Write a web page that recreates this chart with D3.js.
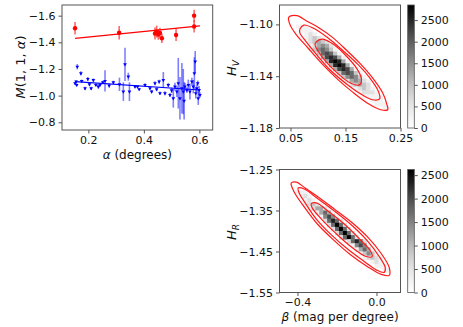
<!DOCTYPE html>
<html>
<head>
<meta charset="utf-8">
<script src="https://cdn.jsdelivr.net/npm/d3@7"></script>
<style>
body { margin: 0; background: #fff; }
svg { font-family: "DejaVu Sans", sans-serif; }
</style>
</head>
<body>
<svg width="463" height="327"></svg>
<script>
// ---------- left panel: M(1,1,alpha) vs phase angle ----------
var redAlpha = [0.152, 0.311, 0.440, 0.446, 0.452, 0.458, 0.465, 0.516, 0.581, 0.581];
var redMag   = [-1.505, -1.472, -1.466, -1.480, -1.459, -1.470, -1.430, -1.455, -1.600, -1.519];
var redErr   = [0.047, 0.05, 0.045, 0.045, 0.04, 0.04, 0.035, 0.045, 0.045, 0.045];

var blueAlpha = [0.152, 0.156, 0.158, 0.160, 0.173, 0.176, 0.188, 0.198, 0.204, 0.210,
                 0.218, 0.227, 0.236, 0.242, 0.252, 0.260, 0.275, 0.290, 0.312, 0.326,
                 0.332, 0.344, 0.348, 0.368, 0.377, 0.383, 0.404, 0.422, 0.428, 0.440,
                 0.446, 0.455, 0.458, 0.470, 0.476, 0.488, 0.494, 0.500, 0.506, 0.512,
                 0.519, 0.524, 0.530, 0.537, 0.542, 0.545, 0.548, 0.555, 0.560, 0.566,
                 0.573, 0.578, 0.582, 0.585, 0.587, 0.591, 0.594, 0.596, 0.599, 0.602];
var blueMag   = [-1.093, -1.105, -1.080, -1.217, -1.168, -1.110, -1.055, -1.125, -1.085, -1.055,
                 -1.117, -1.080, -1.067, -1.080, -1.100, -1.110, -1.075, -1.100, -1.085, -1.030,
                 -1.235, -1.142, -1.030, -1.067, -1.067, -1.048, -1.080, -1.055, -1.030, -1.093,
                 -1.048, -1.105, -1.018, -1.117, -1.018, -1.080, -1.005, -1.040, -0.980, -1.067,
                 -1.030, -1.093, -0.980, -1.055, -1.030, -0.960, -1.067, -1.042, -1.080, -1.030,
                 -1.105, -1.067, -1.168, -1.255, -1.018, -1.055, -1.093, -0.980, -1.042, -1.005];
var blueErr   = [0.010, 0.010, 0.010, 0.020, 0.015, 0.010, 0.012, 0.015, 0.010, 0.012,
                 0.012, 0.010, 0.015, 0.010, 0.012, 0.080, 0.015, 0.012, 0.050, 0.070,
                 0.125, 0.030, 0.070, 0.012, 0.010, 0.010, 0.012, 0.010, 0.012, 0.015,
                 0.015, 0.015, 0.012, 0.060, 0.015, 0.015, 0.015, 0.020, 0.070, 0.030,
                 0.040, 0.190, 0.160, 0.190, 0.170, 0.140, 0.030, 0.020, 0.040, 0.060,
                 0.030, 0.050, 0.120, 0.080, 0.040, 0.030, 0.020, 0.050, 0.030, 0.020];

var redFit  = [[0.152, -1.430], [0.602, -1.523]];
var blueFit = [[0.152, -1.105], [0.602, -1.042]];

var alphaTicks = [0.2, 0.4, 0.6];
var magTicks = [-1.6, -1.4, -1.2, -1.0, -0.8];

// ---------- top right: H_V posterior ----------
var hvBinX0 = 0.03, hvBinW = 0.0075, hvBinY0 = -1.085, hvBinH = 0.003;
// [row, first column, counts...]
var hvRows = [
  [5, 4, [300, 300, 300]],
  [6, 5, [300, 300, 300]],
  [7, 6, [300, 600, 300]],
  [8, 6, [300, 600, 950, 600, 300]],
  [9, 7, [600, 950, 1250, 950, 600]],
  [10, 7, [300, 600, 1250, 1550, 1250, 600, 300]],
  [11, 7, [300, 950, 1550, 1900, 1550, 950, 300]],
  [12, 8, [300, 950, 1900, 2200, 1900, 950, 300]],
  [13, 9, [300, 1250, 2200, 2500, 2200, 1250, 300]],
  [14, 10, [300, 1250, 2500, 2800, 2500, 1250, 300]],
  [15, 11, [300, 1250, 2500, 2800, 2500, 1250, 300]],
  [16, 12, [300, 1250, 2200, 2500, 2200, 1250, 300]],
  [17, 13, [300, 950, 1900, 2200, 1900, 950, 300]],
  [18, 14, [300, 950, 1550, 1900, 1550, 950, 300]],
  [19, 15, [300, 600, 1250, 1550, 1250, 600, 300]],
  [20, 17, [600, 950, 1250, 950, 600]],
  [21, 18, [300, 600, 950, 600, 300]],
  [22, 19, [300, 600, 600, 600, 300]],
  [23, 20, [300, 300, 300, 300, 300]],
  [24, 22, [300, 300, 300]],
  [25, 23, [300, 300, 300]],
  [26, 25, [300, 300]]
];
var hvMax = 2850;
var hvOuter = [[0.0469, -1.0944], [0.0616, -1.0932], [0.0799, -1.0975], [0.1001, -1.1021], [0.1258, -1.1098],
  [0.1515, -1.1198], [0.1772, -1.1305], [0.1992, -1.1413], [0.2175, -1.1528], [0.2249, -1.1613],
  [0.2267, -1.1659], [0.2139, -1.1659], [0.1918, -1.1613], [0.1625, -1.1521], [0.1368, -1.1428],
  [0.1074, -1.1305], [0.0817, -1.1182], [0.0597, -1.1075], [0.0487, -1.0998]];
var hvMiddle = [[0.0671, -1.1036], [0.0744, -1.1005], [0.0909, -1.1028], [0.1184, -1.1105], [0.1460, -1.1205],
  [0.1735, -1.1313], [0.1955, -1.1421], [0.2102, -1.1521], [0.2120, -1.1575], [0.1992, -1.1582],
  [0.1772, -1.1536], [0.1496, -1.1452], [0.1221, -1.1352], [0.0964, -1.1228], [0.0762, -1.1121],
  [0.0671, -1.1067]];
var hvInner = [[0.0964, -1.1136], [0.1074, -1.1113], [0.1276, -1.1152], [0.1496, -1.1236], [0.1698, -1.1336],
  [0.1790, -1.1421], [0.1753, -1.1467], [0.1588, -1.1452], [0.1368, -1.1382], [0.1148, -1.1290],
  [0.1001, -1.1205], [0.0946, -1.1159]];
var hvXTicks = [0.05, 0.15, 0.25];
var hvYTicks = [-1.10, -1.14, -1.18];

// ---------- bottom right: H_R vs beta ----------
var hrBinX0 = -0.49, hrBinW = 0.02, hrBinY0 = -1.25, hrBinH = 0.01;
var hrRows = [
  [5, 4, [290, 290, 290]],
  [6, 5, [290, 580, 290]],
  [7, 6, [290, 580, 290]],
  [8, 6, [290, 580, 870, 580, 290]],
  [9, 7, [290, 580, 1160, 1160, 580, 290]],
  [10, 9, [290, 1160, 1740, 1160, 290]],
  [11, 10, [290, 1450, 2030, 1450, 290]],
  [12, 11, [580, 1740, 2320, 1740, 580]],
  [13, 12, [580, 1740, 2600, 1740, 580]],
  [14, 13, [580, 1740, 2600, 1740, 580]],
  [15, 14, [580, 1740, 2600, 1740, 580]],
  [16, 15, [580, 1740, 2600, 1740, 580]],
  [17, 17, [580, 1740, 2320, 1740, 580]],
  [18, 18, [290, 1450, 2030, 1450, 290]],
  [19, 19, [290, 1160, 1740, 1160, 290]],
  [20, 20, [290, 870, 1450, 870, 290]],
  [21, 21, [290, 580, 870, 580, 290]],
  [22, 23, [290, 580, 290]],
  [23, 24, [290, 290, 290]],
  [24, 26, [290, 290]]
];
var hrMax = 2620;
var hrOuter = [[-0.4319, -1.2831], [-0.4066, -1.2807], [-0.3610, -1.2952], [-0.2952, -1.3170], [-0.2142, -1.3461],
  [-0.1230, -1.3799], [-0.0420, -1.4162], [0.0238, -1.4549], [0.0643, -1.4888], [0.0643, -1.5082],
  [0.0238, -1.5057], [-0.0471, -1.4864], [-0.1332, -1.4574], [-0.2192, -1.4211], [-0.3003, -1.3823],
  [-0.3661, -1.3412], [-0.4167, -1.3049]];
var hrMiddle = [[-0.3965, -1.2952], [-0.3661, -1.2977], [-0.2952, -1.3219], [-0.2142, -1.3509], [-0.1281, -1.3848],
  [-0.0471, -1.4235], [0.0137, -1.4622], [0.0441, -1.4888], [0.0390, -1.5009], [0.0035, -1.4961],
  [-0.0623, -1.4743], [-0.1433, -1.4453], [-0.2243, -1.4114], [-0.3053, -1.3703], [-0.3610, -1.3315],
  [-0.3914, -1.3073]];
var hrInner = [[-0.3306, -1.3340], [-0.3053, -1.3315], [-0.2344, -1.3557], [-0.1534, -1.3872], [-0.0825, -1.4211],
  [-0.0319, -1.4477], [-0.0218, -1.4622], [-0.0522, -1.4622], [-0.1230, -1.4404], [-0.2041, -1.4065],
  [-0.2800, -1.3703], [-0.3256, -1.3436]];
var hrXTicks = [-0.4, 0.0];
var hrYTicks = [-1.25, -1.35, -1.45, -1.55];

var cbTicks = [0, 500, 1000, 1500, 2000, 2500];

var svg = d3.select("svg");
var frameColor = "#555";
var tickFont = 11;

function styleAxis(g) {
  g.select(".domain").remove();
  g.selectAll(".tick line").attr("stroke", frameColor);
  g.selectAll(".tick text").attr("fill", "#111").style("font-size", tickFont + "px")
    .style("font-family", "DejaVu Sans, sans-serif");
}

function frame(x, y) {
  svg.append("rect")
    .attr("x", x.range()[0]).attr("y", Math.min(y.range()[0], y.range()[1]))
    .attr("width", x.range()[1] - x.range()[0])
    .attr("height", Math.abs(y.range()[1] - y.range()[0]))
    .attr("fill", "none").attr("stroke", frameColor).attr("stroke-width", 1);
}

// ===== Left panel =====
var xL = d3.scaleLinear().domain([0.105, 0.648]).range([62, 212.7]);
var yL = d3.scaleLinear().domain([-1.68, -0.742]).range([5, 130]);

var left = svg.append("g");

// blue error bars
left.selectAll(".berr").data(blueAlpha).enter().append("line")
  .attr("x1", d => xL(d)).attr("x2", d => xL(d))
  .attr("y1", (d, i) => yL(blueMag[i] - blueErr[i]))
  .attr("y2", (d, i) => yL(blueMag[i] + blueErr[i]))
  .attr("stroke", "#0000ff").attr("stroke-opacity", 0.5).attr("stroke-width", 1.6);

// red error bars
left.selectAll(".rerr").data(redAlpha).enter().append("line")
  .attr("x1", d => xL(d)).attr("x2", d => xL(d))
  .attr("y1", (d, i) => yL(redMag[i] - redErr[i]))
  .attr("y2", (d, i) => yL(redMag[i] + redErr[i]))
  .attr("stroke", "#ff0000").attr("stroke-opacity", 0.6).attr("stroke-width", 1.6);

var fitLine = d3.line().x(d => xL(d[0])).y(d => yL(d[1]));
left.append("path").attr("d", fitLine(redFit)).attr("fill", "none")
  .attr("stroke", "#ff0000").attr("stroke-width", 1.3);
left.append("path").attr("d", fitLine(blueFit)).attr("fill", "none")
  .attr("stroke", "#0000ff").attr("stroke-width", 1.2);

// blue markers (small downward triangles)
var tri = d3.symbol().type(d3.symbolTriangle).size(6);
left.selectAll(".bpt").data(blueAlpha).enter().append("path")
  .attr("d", tri())
  .attr("transform", (d, i) => `translate(${xL(d)},${yL(blueMag[i])}) rotate(180)`)
  .attr("fill", "#0000ff");

left.selectAll(".rpt").data(redAlpha).enter().append("circle")
  .attr("cx", d => xL(d)).attr("cy", (d, i) => yL(redMag[i]))
  .attr("r", 2.2).attr("fill", "#ff0000");

frame(xL, yL);

svg.append("g").attr("transform", `translate(0,${yL.range()[1]})`)
  .call(d3.axisBottom(xL).tickValues(alphaTicks).tickFormat(d3.format(".1f")).tickSize(3.5).tickPadding(2.5))
  .call(styleAxis);
svg.append("g").attr("transform", `translate(${xL.range()[0]},0)`)
  .call(d3.axisLeft(yL).tickValues(magTicks).tickFormat(d3.format(".1f")).tickSize(3.5).tickPadding(3))
  .call(styleAxis);

// axis labels
var xlab = svg.append("text").attr("x", (xL.range()[0] + xL.range()[1]) / 2).attr("y", 158.5)
  .attr("text-anchor", "middle").style("font-size", "12px").attr("fill", "#111");
xlab.append("tspan").style("font-style", "italic").text("α");
xlab.append("tspan").text(" (degrees)");

var ylab = svg.append("text").attr("transform", "translate(25,67) rotate(-90)")
  .attr("text-anchor", "middle").style("font-size", "13px").attr("fill", "#111");
ylab.append("tspan").style("font-style", "italic").text("M");
ylab.append("tspan").text("(1, 1, ");
ylab.append("tspan").style("font-style", "italic").text("α");
ylab.append("tspan").text(")");

// ===== Heatmap panels =====
function heatPanel(opts) {
  var x = opts.x, y = opts.y;
  var color = d3.scaleSequential(d3.interpolateGreys).domain([0, opts.max]);
  var g = svg.append("g");
  var cells = [];
  opts.rows.forEach(function (r) {
    r[2].forEach(function (c, k) {
      cells.push({ row: r[0], col: r[1] + k, count: c });
    });
  });
  g.selectAll("rect").data(cells).enter().append("rect")
    .attr("x", d => x(opts.x0 + d.col * opts.w))
    .attr("y", d => y(opts.y0 - d.row * opts.h))
    .attr("width", d => x(opts.x0 + (d.col + 1) * opts.w) - x(opts.x0 + d.col * opts.w) + 0.4)
    .attr("height", d => y(opts.y0 - (d.row + 1) * opts.h) - y(opts.y0 - d.row * opts.h) + 0.4)
    .attr("fill", d => color(d.count));

  var contourLine = d3.line().x(d => x(d[0])).y(d => y(d[1])).curve(d3.curveCatmullRomClosed.alpha(0.5));
  [opts.outer, opts.middle, opts.inner].forEach(function (pts) {
    g.append("path").attr("d", contourLine(pts)).attr("fill", "none")
      .attr("stroke", "#ff1a1a").attr("stroke-width", 1.2);
  });

  frame(x, y);
  svg.append("g").attr("transform", `translate(0,${y.range()[1]})`)
    .call(d3.axisBottom(x).tickValues(opts.xTicks).tickFormat(d3.format(opts.xFmt)).tickSize(3.5).tickPadding(2.5))
    .call(styleAxis);
  svg.append("g").attr("transform", `translate(${x.range()[0]},0)`)
    .call(d3.axisLeft(y).tickValues(opts.yTicks).tickFormat(d3.format(".2f")).tickSize(3.5).tickPadding(3))
    .call(styleAxis);

  // colorbar
  var cbx = 407.7, cbw = 6.6;
  var cy = d3.scaleLinear().domain([0, opts.max]).range([y.range()[1], y.range()[0]]);
  var gradId = "grad" + opts.id;
  var grad = svg.append("defs").append("linearGradient").attr("id", gradId)
    .attr("x1", 0).attr("y1", 1).attr("x2", 0).attr("y2", 0);
  d3.range(0, 1.0001, 0.1).forEach(function (t) {
    grad.append("stop").attr("offset", t).attr("stop-color", d3.interpolateGreys(t));
  });
  svg.append("rect").attr("x", cbx).attr("y", cy.range()[1]).attr("width", cbw)
    .attr("height", cy.range()[0] - cy.range()[1]).attr("fill", `url(#${gradId})`)
    .attr("stroke", frameColor).attr("stroke-width", 0.8);
  svg.append("g").attr("transform", `translate(${cbx + cbw},0)`)
    .call(d3.axisRight(cy).tickValues(cbTicks).tickFormat(d3.format("d")).tickSize(3.5).tickPadding(3))
    .call(styleAxis);

  var lab = svg.append("text").attr("transform", `translate(${opts.labX},${opts.labY}) rotate(-90)`)
    .attr("text-anchor", "middle").style("font-size", "13px").attr("fill", "#111");
  lab.append("tspan").style("font-style", "italic").text("H");
  lab.append("tspan").style("font-style", "italic").style("font-size", "9px").attr("dy", 3).text(opts.sub);
}

heatPanel({
  id: "hv",
  x: d3.scaleLinear().domain([0.03, 0.25]).range([279.5, 400.5]),
  y: d3.scaleLinear().domain([-1.085, -1.18]).range([5, 128]),
  x0: hvBinX0, w: hvBinW, y0: hvBinY0, h: hvBinH,
  rows: hvRows, max: hvMax,
  outer: hvOuter, middle: hvMiddle, inner: hvInner,
  xTicks: hvXTicks, yTicks: hvYTicks, xFmt: ".2f",
  labX: 236, labY: 68, sub: "V"
});

heatPanel({
  id: "hr",
  x: d3.scaleLinear().domain([-0.491, 0.1215]).range([279.5, 400.5]),
  y: d3.scaleLinear().domain([-1.25, -1.55]).range([169.5, 292.5]),
  x0: hrBinX0, w: hrBinW, y0: hrBinY0, h: hrBinH,
  rows: hrRows, max: hrMax,
  outer: hrOuter, middle: hrMiddle, inner: hrInner,
  xTicks: hrXTicks, yTicks: hrYTicks, xFmt: ".1f",
  labX: 236, labY: 232, sub: "R"
});

var blab = svg.append("text").attr("x", 340).attr("y", 320.5)
  .attr("text-anchor", "middle").style("font-size", "12px").attr("fill", "#111");
blab.append("tspan").style("font-style", "italic").text("β");
blab.append("tspan").text(" (mag per degree)");
</script>
</body>
</html>
